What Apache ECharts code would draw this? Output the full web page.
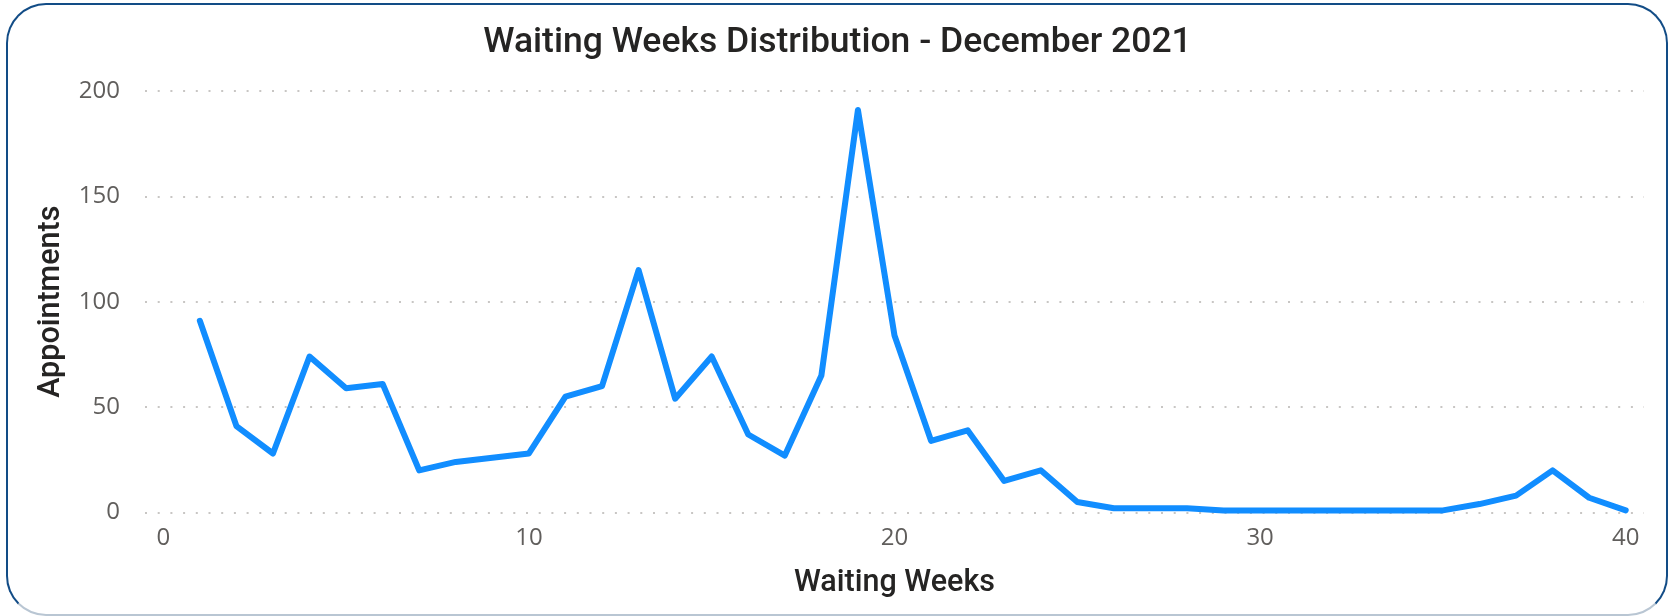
<!DOCTYPE html>
<html>
<head>
<meta charset="utf-8">
<title>Waiting Weeks Distribution - December 2021</title>
<script src="https://cdn.jsdelivr.net/npm/echarts@6/dist/echarts.min.js"></script>
<style>
  html, body { margin: 0; padding: 0; background: #fff; }
  #chart { position: absolute; left: 0; top: 0; width: 1675px; height: 616px; }
  #frame {
    position: absolute; left: 6px; top: 3px; width: 1658px; height: 609px;
    border: 2px solid #124C86; border-bottom-color: #B9C6D3;
    border-radius: 40px; pointer-events: none;
  }
</style>
</head>
<body>
<div id="chart"></div>
<div id="frame"></div>
<script>
// waiting weeks 1..40 and appointment counts
const weeks = [
  1, 2, 3, 4, 5, 6, 7, 8, 9, 10,
  11, 12, 13, 14, 15, 16, 17, 18, 19, 20,
  21, 22, 23, 24, 25, 26, 27, 28, 29, 30,
  31, 32, 33, 34, 35, 36, 37, 38, 39, 40,
];
const appointments = [
  91, 41, 28, 74, 59, 61, 20, 24, 26, 28,
  55, 60, 115, 54, 74, 37, 27, 65, 191, 84,
  34, 39, 15, 20, 5, 2, 2, 2, 1, 1,
  1, 1, 1, 1, 1, 4, 8, 20, 7, 1,
];
const xTicks = [0, 10, 20, 30, 40];
const yTicks = [0, 50, 100, 150, 200];

const chart = echarts.init(document.getElementById('chart'), null, { renderer: 'canvas' });

const tickFont = { color: '#605E5C', fontSize: 24, fontFamily: '"Open Sans", "Noto Sans", sans-serif' };
const nameFont = { color: '#252423', fontSize: 30.5, fontWeight: 500, fontFamily: 'Roboto, "Noto Sans", sans-serif' };

chart.setOption({
  animation: false,
  backgroundColor: '#ffffff',
  title: {
    text: 'Waiting Weeks Distribution - December 2021',
    left: 'center',
    top: 20,
    textStyle: { color: '#252423', fontSize: 35.5, fontWeight: 500, fontFamily: 'Roboto, "Noto Sans", sans-serif' },
  },
  grid: { left: 145, right: 31, top: 91, bottom: 103.5, containLabel: false },
  xAxis: {
    type: 'value',
    min: -0.5,
    max: 40.5,
    name: 'Waiting Weeks',
    nameLocation: 'middle',
    nameGap: 55,
    nameTextStyle: nameFont,
    axisLine: { show: false },
    axisTick: { show: false },
    splitLine: { show: false },
    axisLabel: Object.assign({ customValues: xTicks, margin: 14 }, tickFont),
  },
  yAxis: {
    type: 'value',
    min: yTicks[0],
    max: yTicks[yTicks.length - 1],
    interval: 50,
    name: 'Appointments',
    nameLocation: 'middle',
    nameGap: 78,
    nameTextStyle: nameFont,
    axisLine: { show: false },
    axisTick: { show: false },
    axisLabel: Object.assign({ margin: 25 }, tickFont),
    splitLine: { lineStyle: { color: '#C8C6C4', width: 2, type: [2, 10.7] } },
  },
  series: [
    {
      type: 'line',
      data: weeks.map((w, i) => [w, appointments[i]]),
      showSymbol: false,
      lineStyle: { color: '#118DFF', width: 6, cap: 'round', join: 'round' },
      itemStyle: { color: '#118DFF' },
    },
  ],
});
</script>
</body>
</html>
